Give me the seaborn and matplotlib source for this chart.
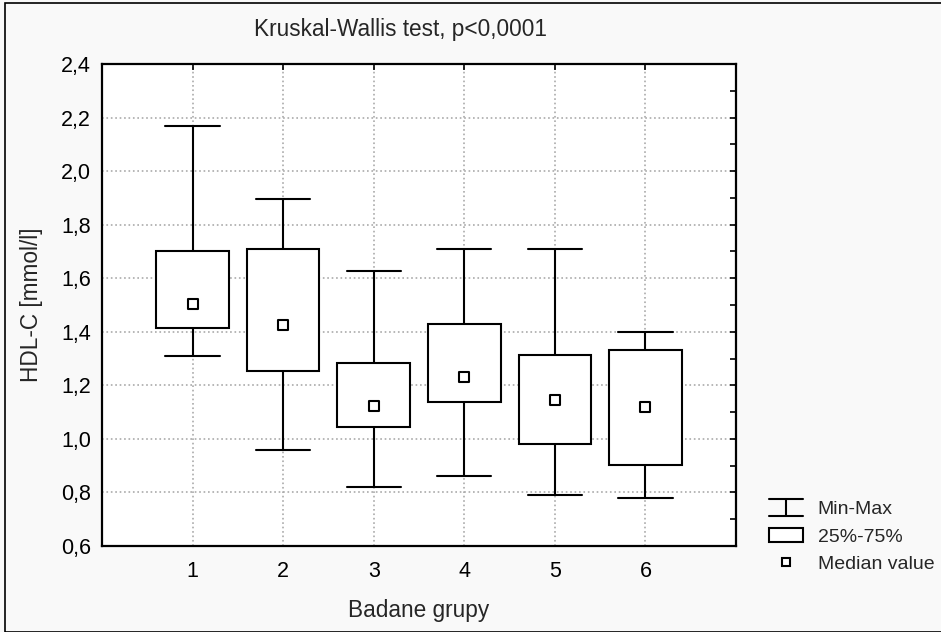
import matplotlib
matplotlib.use("Agg")
import matplotlib.pyplot as plt
import pandas as pd
import seaborn as sns
from matplotlib.lines import Line2D
from matplotlib.patches import Patch, Rectangle
from matplotlib.legend_handler import HandlerBase
from matplotlib.ticker import MultipleLocator, FuncFormatter

# values (HDL-C, mmol/l)
groups = [1, 2, 3, 4, 5, 6]
mins = [1.31, 0.96, 0.82, 0.86, 0.79, 0.78]
q25 = [1.415, 1.255, 1.046, 1.139, 0.982, 0.904]
medians = [1.503, 1.424, 1.124, 1.231, 1.146, 1.120]
q75 = [1.702, 1.709, 1.284, 1.429, 1.313, 1.332]
maxs = [2.169, 1.896, 1.628, 1.709, 1.709, 1.399]

title = "Kruskal-Wallis test, p<0,0001"
xlabel = "Badane grupy"
ylabel = "HDL-C [mmol/l]"
legend_labels = ["Min-Max", "25%-75%", "Median value"]

FS_LABEL = 16.3
FS_TICK = 15.5
FS_LEG = 14


class MinMaxHandler(HandlerBase):
    def create_artists(self, legend, orig_handle, xdescent, ydescent,
                       width, height, fontsize, trans):
        x0, x1 = -xdescent, -xdescent + width
        y0, y1 = -ydescent - 1, -ydescent + height + 1
        xm = (x0 + x1) / 2
        kw = dict(color="black", lw=1.5, transform=trans)
        return [Line2D([x0, x1], [y1, y1], **kw),
                Line2D([xm, xm], [y0, y1], **kw),
                Line2D([x0, x1], [y0, y0], **kw)]


def build_frame():
    # five-number summary per group -> boxplot with whiskers at min/max
    rows = []
    for g, a, b, c, d, e in zip(groups, mins, q25, medians, q75, maxs):
        for v in (a, b, c, d, e):
            rows.append({"grupa": g, "HDL": v})
    return pd.DataFrame(rows)


def main():
    df = build_frame()
    sns.set_style("white")
    plt.rcParams["font.family"] = ["Liberation Sans", "DejaVu Sans"]

    fig = plt.figure(figsize=(9.41, 6.32), dpi=100, facecolor="#f9f9f9")
    ax = fig.add_axes([102 / 941, 86 / 632, 634 / 941, 482 / 632])
    ax.set_facecolor("white")

    sns.boxplot(data=df, x="grupa", y="HDL", native_scale=True,
                whis=(0, 100), width=0.8, color="white", saturation=1,
                linecolor="black", linewidth=1.5, showfliers=False,
                medianprops=dict(visible=False), capwidths=0.6, ax=ax)
    sns.scatterplot(x=groups, y=medians, marker="s", s=42, color="white",
                    edgecolor="black", linewidth=1.5, zorder=5, ax=ax,
                    legend=False)

    ax.set_xlim(0, 7)
    ax.set_ylim(0.6, 2.4)
    ax.set_xticks(groups)
    ax.set_xticklabels([str(g) for g in groups])
    ax.yaxis.set_major_locator(MultipleLocator(0.2))
    ax.yaxis.set_minor_locator(MultipleLocator(0.1))
    ax.yaxis.set_major_formatter(FuncFormatter(lambda v, p: f"{v:.1f}".replace(".", ",")))
    ax.grid(True, which="major", linestyle=":", color="#aaaaaa", lw=1.2)
    ax.set_axisbelow(True)
    ax.tick_params(which="both", direction="in", top=True, right=True,
                   length=4, width=1.2, labelsize=FS_TICK, colors="black")
    ax.tick_params(axis="y", pad=8)
    ax.tick_params(axis="x", pad=11)
    for sp in ax.spines.values():
        sp.set_visible(True)
        sp.set_color("black")
        sp.set_linewidth(1.6)

    ax.set_xlabel(xlabel, fontsize=FS_LABEL, labelpad=12)
    ax.set_ylabel(ylabel, fontsize=FS_LABEL, labelpad=13)
    ax.set_title(title, fontsize=FS_LABEL, x=(401 - 102) / 634, pad=20)

    handles = [Line2D([], []),
               Patch(facecolor="white", edgecolor="black", lw=1.5),
               Line2D([], [], marker="s", ls="none", markersize=6,
                      markerfacecolor="white", markeredgecolor="black",
                      markeredgewidth=1.5)]
    fig.legend(handles, legend_labels, loc="upper left",
               bbox_to_anchor=(769 / 941, 1 - 500 / 632), frameon=False,
               fontsize=FS_LEG, borderpad=0, borderaxespad=0,
               handlelength=1.75, handletextpad=0.75, labelspacing=0.5,
               handleheight=0.75,
               handler_map={handles[0]: MinMaxHandler()})

    fig.patches.append(Rectangle((5 / 941, 0.5 / 632), 1.0, 1 - 3 / 632,
                                 transform=fig.transFigure, fill=False,
                                 edgecolor="black", lw=1.2))

    fig.savefig("out.png", dpi=100, facecolor=fig.get_facecolor())


if __name__ == "__main__":
    main()
